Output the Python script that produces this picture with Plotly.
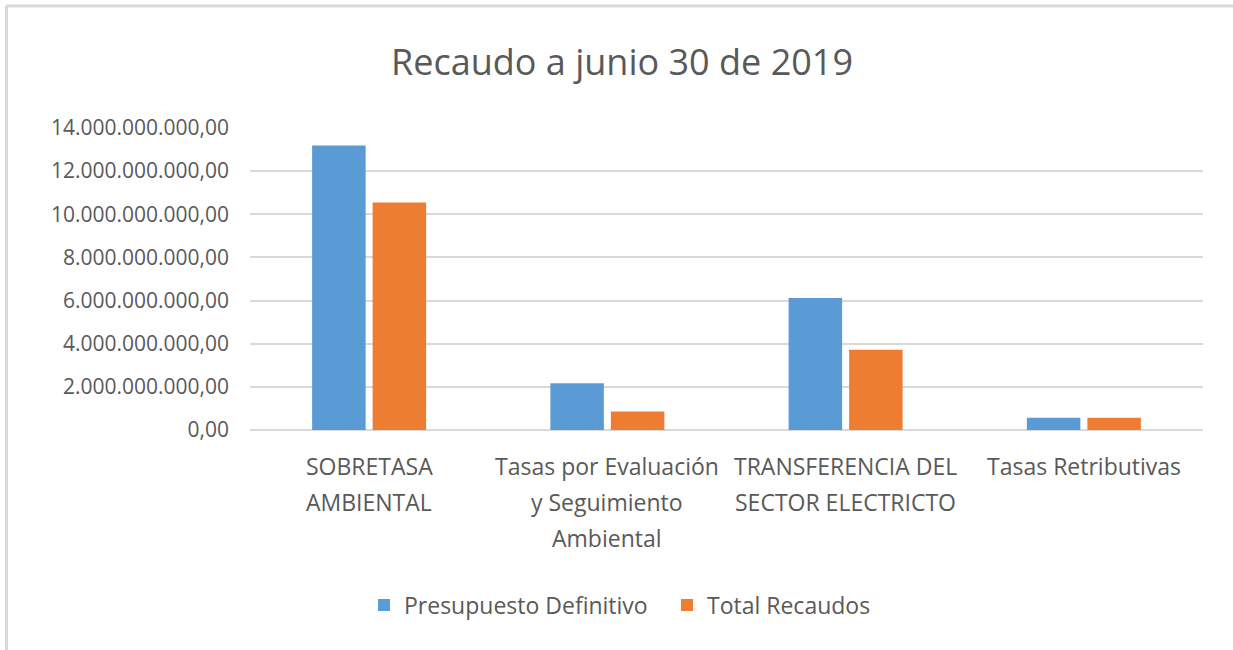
import plotly.graph_objects as go

categories = ["SOBRETASA<br>AMBIENTAL",
              "Tasas por Evaluación<br>y Seguimiento<br>Ambiental",
              "TRANSFERENCIA DEL<br>SECTOR ELECTRICTO",
              "Tasas Retributivas"]
presupuesto = [13.19e9, 2.17e9, 6.12e9, 0.57e9]
recaudos = [10.55e9, 0.86e9, 3.72e9, 0.57e9]
series_names = ["Presupuesto Definitivo", "Total Recaudos"]
tick_values = [0, 2e9, 4e9, 6e9, 8e9, 10e9, 12e9, 14e9]

FONT = "Open Sans, Lato, sans-serif"
GRAY = "#595959"
GRID = "#D9D9D9"
W, H = 1233, 650
L, R, T, B = 250, 30, 128, 220

fig = go.Figure()
fig.add_trace(go.Bar(x=categories, y=presupuesto, name=series_names[0],
                     marker=dict(color="#5B9BD5", line=dict(width=0))))
fig.add_trace(go.Bar(x=categories, y=recaudos, name=series_names[1],
                     marker=dict(color="#ED7D31", line=dict(width=0))))

pw, ph = W - L - R, H - T - B
def px(x):
    return (x - L) / pw
def py(y):
    return (H - B - y) / ph

# category labels as annotations so the line spacing matches the reference
annotations = []
for cat in categories:
    for i, line in enumerate(cat.split("<br>")):
        annotations.append(dict(x=cat, y=0, xref="x", yref="y", text=line,
                                showarrow=False, xanchor="center", yanchor="top",
                                yshift=-(18 + 36 * i),
                                font=dict(family=FONT, size=23, color=GRAY)))

fig.update_layout(
    width=W, height=H,
    margin=dict(l=L, r=R, t=T, b=B, pad=0),
    paper_bgcolor="white", plot_bgcolor="white",
    separators=",.",
    barmode="group", bargap=0.492, bargroupgap=0.116,
    title=dict(text="Recaudo a junio 30 de 2019", x=622 / W, xanchor="center",
               xref="container", y=1 - 62 / H, yanchor="middle", yref="container",
               font=dict(family=FONT, size=36, color=GRAY)),
    font=dict(family=FONT, color=GRAY),
    legend=dict(orientation="h", x=px(364), xanchor="left", y=py(605), yanchor="middle",
                font=dict(family=FONT, size=23, color=GRAY), traceorder="normal",
                itemwidth=30, entrywidth=258, entrywidthmode="pixels",
                bgcolor="rgba(0,0,0,0)"),
    xaxis=dict(showgrid=False, showline=False, ticks="", showticklabels=False),
    yaxis=dict(range=[0, 14e9], tickvals=tick_values, tickformat=",.2f",
               showgrid=True, gridcolor=GRID, gridwidth=2,
               zeroline=True, zerolinecolor=GRID, zerolinewidth=2,
               showline=False, ticks="", ticklabelstandoff=20,
               tickfont=dict(family=FONT, size=21, color=GRAY)),
    annotations=annotations,
    shapes=[
        dict(type="line", xref="paper", yref="paper", x0=px(6), x1=px(W + 5),
             y0=py(6), y1=py(6), line=dict(color="#D9D9D9", width=3)),
        dict(type="line", xref="paper", yref="paper", x0=px(6.5), x1=px(6.5),
             y0=py(6), y1=py(H + 5), line=dict(color="#D9D9D9", width=3)),
    ],
)

fig.write_html("out.html", config={"displayModeBar": False},
               post_script="document.body.style.margin='0px';")
